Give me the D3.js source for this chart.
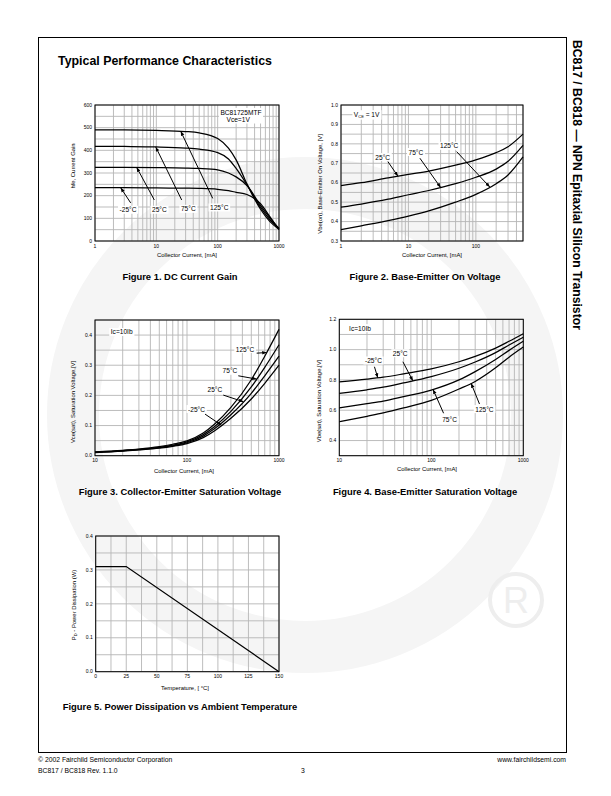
<!DOCTYPE html>
<html lang="en">
<head>
<meta charset="UTF-8">
<title>BC817 / BC818 Typical Performance Characteristics</title>
<style>
  body { margin: 0; background: #fff; }
  text { font-family: "Liberation Sans", Arial, sans-serif; fill: #000; }
</style>
</head>
<body>
<svg width="611" height="796"></svg>
<script src="https://cdn.jsdelivr.net/npm/d3@7"></script>
<script>
// ---- Figure 1: DC current gain vs collector current ----
var gainCurrent = [1, 3, 10, 30, 50, 100, 150, 200, 300, 500, 700, 1000];
var gainM25  = [235, 235, 234, 233, 232, 228, 222, 215, 205, 165, 110, 50];
var gain25   = [325, 325, 324, 322, 320, 314, 300, 283, 245, 157, 104, 54];
var gain75   = [418, 417, 415, 410, 405, 390, 362, 320, 248, 148, 96, 56];
var gain125  = [490, 490, 488, 483, 477, 452, 410, 358, 252, 140, 88, 52];
var gainTicksX = [1, 10, 100, 1000];
var gainTicksY = [0, 100, 200, 300, 400, 500, 600];

// ---- Figure 2: Vbe(on) vs collector current ----
var vbeOnCurrent = [1, 2, 5, 10, 20, 50, 100, 200, 300, 500];
var vbeOn25  = [0.585, 0.600, 0.625, 0.643, 0.660, 0.690, 0.718, 0.755, 0.785, 0.850];
var vbeOn75  = [0.474, 0.490, 0.515, 0.538, 0.560, 0.595, 0.628, 0.670, 0.710, 0.792];
var vbeOn125 = [0.358, 0.378, 0.405, 0.428, 0.455, 0.500, 0.540, 0.595, 0.640, 0.733];
var vbeOnTicksX = [1, 10, 100];
var vbeOnTicksY = [0.3, 0.4, 0.5, 0.6, 0.7, 0.8, 0.9, 1.0];

// ---- Figure 3: Vce(sat) vs collector current ----
var vceCurrent = [10, 20, 30, 50, 70, 100, 150, 200, 300, 500, 700, 1000];
var vceM25 = [0.010, 0.015, 0.019, 0.025, 0.031, 0.040, 0.060, 0.083, 0.124, 0.188, 0.240, 0.300];
var vce25  = [0.011, 0.016, 0.020, 0.027, 0.033, 0.043, 0.065, 0.090, 0.136, 0.207, 0.265, 0.330];
var vce75  = [0.012, 0.017, 0.021, 0.028, 0.035, 0.046, 0.070, 0.097, 0.147, 0.228, 0.293, 0.368];
var vce125 = [0.013, 0.018, 0.022, 0.030, 0.038, 0.049, 0.075, 0.105, 0.160, 0.252, 0.330, 0.419];
var vceTicksX = [10, 100, 1000];
var vceTicksY = [0.0, 0.1, 0.2, 0.3, 0.4];

// ---- Figure 4: Vbe(sat) vs collector current ----
var vbeSatCurrent = [10, 20, 30, 50, 100, 200, 300, 500, 700, 1000];
var vbeSatM25 = [0.787, 0.805, 0.818, 0.840, 0.873, 0.920, 0.955, 1.010, 1.055, 1.105];
var vbeSat25  = [0.711, 0.735, 0.752, 0.780, 0.822, 0.877, 0.918, 0.980, 1.030, 1.082];
var vbeSat75  = [0.615, 0.643, 0.660, 0.690, 0.733, 0.800, 0.855, 0.935, 0.995, 1.055];
var vbeSat125 = [0.524, 0.560, 0.582, 0.615, 0.665, 0.740, 0.790, 0.880, 0.950, 1.017];
var vbeSatTicksX = [10, 100, 1000];
var vbeSatTicksY = [0.4, 0.6, 0.8, 1.0, 1.2];

// ---- Figure 5: power dissipation vs temperature ----
var pdTemp = [0, 25, 150];
var pdWatts = [0.31, 0.31, 0.0];
var pdTicksX = [0, 25, 50, 75, 100, 125, 150];
var pdTicksY = [0.0, 0.1, 0.2, 0.3, 0.4];

var svg = d3.select("svg");

// faint logo watermark
svg.append("circle").attr("cx", 305).attr("cy", 415).attr("r", 232)
    .attr("fill", "none").attr("stroke", "#f5f5f5").attr("stroke-width", 52);
svg.append("circle").attr("cx", 516).attr("cy", 600).attr("r", 26)
    .attr("fill", "none").attr("stroke", "#eeeeee").attr("stroke-width", 4);
svg.append("text").attr("x", 516).attr("y", 613).attr("text-anchor", "middle")
    .attr("font-size", 36).style("fill", "#eeeeee").text("R");

// page frame
svg.append("rect").attr("x", 38.5).attr("y", 37.5).attr("width", 528).attr("height", 715)
    .attr("fill", "none").attr("stroke", "#000").attr("stroke-width", 1);

svg.append("text").attr("x", 58).attr("y", 64.5).attr("font-size", 12.4)
    .attr("font-weight", "bold").text("Typical Performance Characteristics");

svg.append("text").attr("transform", "translate(573,40) rotate(90)")
    .attr("font-size", 12.2).attr("font-weight", "bold")
    .text("BC817 / BC818 \u2014 NPN Epitaxial Silicon Transistor");

// arrow head
svg.append("defs").append("marker").attr("id", "arr")
    .attr("viewBox", "0 0 10 10").attr("refX", 10).attr("refY", 5)
    .attr("markerWidth", 4.5).attr("markerHeight", 4.5).attr("orient", "auto")
    .attr("markerUnits", "userSpaceOnUse")
    .append("path").attr("d", "M0,1 L10,5 L0,9 Z").attr("fill", "#000");

function stepRange(lo, hi, step) {
  var n = Math.round((hi - lo) / step);
  return d3.range(n + 1).map(function(i) { return lo + i * step; });
}

function labelBox(g, x, y, txt, size) {
  var t = g.append("text").attr("x", x).attr("y", y).attr("text-anchor", "middle")
      .attr("font-size", size);
  if (typeof txt === "function") txt(t); else t.text(txt);
  var b = t.node().getBBox();
  g.insert("rect", function() { return t.node(); })
      .attr("x", b.x - 1.5).attr("y", b.y - 0.5).attr("width", b.width + 3).attr("height", b.height + 1)
      .attr("fill", "#fff");
  return t;
}

function drawPanel(p) {
  var g = svg.append("g");
  var L = p.box[0], T = p.box[1], R = p.box[2], B = p.box[3];
  var x = (p.log ? d3.scaleLog() : d3.scaleLinear()).domain(p.xDomain).range([L, R]);
  var y = d3.scaleLinear().domain(p.yDomain).range([B, T]);

  var xg = p.log ? x.ticks() : stepRange(p.xDomain[0], p.xDomain[1], p.xStep);
  var yg = stepRange(p.yDomain[0], p.yDomain[1], p.yStep);

  g.selectAll(".vg").data(xg).enter().append("line")
      .attr("x1", function(d) { return x(d); }).attr("x2", function(d) { return x(d); })
      .attr("y1", T).attr("y2", B).attr("stroke", "#b5b5b5").attr("stroke-width", 0.9);
  g.selectAll(".hg").data(yg).enter().append("line")
      .attr("x1", L).attr("x2", R)
      .attr("y1", function(d) { return y(d); }).attr("y2", function(d) { return y(d); })
      .attr("stroke", "#b5b5b5").attr("stroke-width", 0.9);

  g.append("rect").attr("x", L).attr("y", T).attr("width", R - L).attr("height", B - T)
      .attr("fill", "none").attr("stroke", "#000").attr("stroke-width", 1);

  g.selectAll(".xt").data(p.xTicks).enter().append("text")
      .attr("x", function(d) { return x(d); }).attr("y", B + 6.5)
      .attr("text-anchor", "middle").attr("font-size", 5)
      .text(function(d) { return p.xFmt ? p.xFmt(d) : d; });
  g.selectAll(".yt").data(p.yTicks).enter().append("text")
      .attr("x", L - 3).attr("y", function(d) { return y(d) + 1.7; })
      .attr("text-anchor", "end").attr("font-size", 5)
      .text(function(d) { return p.yFmt ? p.yFmt(d) : d; });

  g.append("text").attr("x", p.xTitle[1]).attr("y", B + p.xTitle[2])
      .attr("text-anchor", "middle").attr("font-size", 5.9).text(p.xTitle[0]);
  var yt = g.append("text").attr("transform", "translate(" + (L + p.yTitle[1]) + "," + p.yTitle[2] + ") rotate(-90)")
      .attr("text-anchor", "middle").attr("font-size", 5.9);
  if (typeof p.yTitle[0] === "function") p.yTitle[0](yt); else yt.text(p.yTitle[0]);

  var line = d3.line().x(function(d) { return x(d[0]); }).y(function(d) { return y(d[1]); })
      .curve(p.log ? d3.curveMonotoneX : d3.curveLinear);
  p.series.forEach(function(s) {
    g.append("path").datum(d3.zip(p.xs, s)).attr("d", line)
        .attr("fill", "none").attr("stroke", "#000").attr("stroke-width", 1.25);
  });

  function onCurve(s, tx) {
    var xs = p.xs;
    for (var i = 0; i < xs.length - 1; i++) {
      if (tx >= xs[i] && tx <= xs[i + 1]) {
        var t = p.log ? Math.log(tx / xs[i]) / Math.log(xs[i + 1] / xs[i]) : (tx - xs[i]) / (xs[i + 1] - xs[i]);
        return s[i] + t * (s[i + 1] - s[i]);
      }
    }
    return s[s.length - 1];
  }

  (p.notes || []).forEach(function(n) {
    var s = p.series[n.s];
    g.append("line").attr("x1", x(n.ax)).attr("y1", y(n.ay))
        .attr("x2", x(n.tx)).attr("y2", y(onCurve(s, n.tx)))
        .attr("stroke", "#000").attr("stroke-width", 1).attr("marker-end", "url(#arr)");
    labelBox(g, x(n.lx), y(n.ly) + 2.3, n.text, 6.6);
  });

  (p.boxes || []).forEach(function(b) {
    labelBox(g, x(b.x), y(b.y), b.text, 6.6);
  });

  g.append("text").attr("x", p.caption[1]).attr("y", p.caption[2])
      .attr("text-anchor", "middle").attr("font-size", 9.4).attr("font-weight", "bold")
      .text(p.caption[0]);
}

var fmt1 = d3.format(".1f");

drawPanel({
  box: [95, 105, 279, 241], log: true, xDomain: [1, 1000], yDomain: [0, 600], yStep: 50,
  xTicks: gainTicksX, yTicks: gainTicksY,
  xs: gainCurrent, series: [gainM25, gain25, gain75, gain125],
  xTitle: ["Collector Current, [mA]", 187, 16], yTitle: ["hfe, Current Gain", -20, 166],
  notes: [
    {text: "-25\u00B0C", lx: 3.45, ly: 137, ax: 3.82, ay: 168, tx: 2.62, s: 0},
    {text: "25\u00B0C", lx: 11.2, ly: 137, ax: 9.27, ay: 181, tx: 4.78, s: 1},
    {text: "75\u00B0C", lx: 33.2, ly: 141, ax: 25.9, ay: 181, tx: 9.77, s: 2},
    {text: "125\u00B0C", lx: 106, ly: 147, ax: 83, ay: 188, tx: 25, s: 3}
  ],
  boxes: [
    {x: 240, y: 558, text: function(t) {
      t.append("tspan").text("BC81725MTF");
      t.append("tspan").attr("dx", -35).attr("dy", 7.5).text("Vce=1V");
    }}
  ],
  caption: ["Figure 1. DC Current Gain", 180, 279.5]
});

drawPanel({
  box: [341, 105, 523, 241], log: true, xDomain: [1, 500], yDomain: [0.3, 1.0], yStep: 0.05,
  xTicks: vbeOnTicksX, yTicks: vbeOnTicksY, yFmt: fmt1,
  xs: vbeOnCurrent, series: [vbeOn25, vbeOn75, vbeOn125],
  xTitle: ["Collector Current, [mA]", 432, 16], yTitle: ["Vbe(on), Base-Emitter On Voltage, [V]", -19, 184],
  notes: [
    {text: "25\u00B0C", lx: 4.15, ly: 0.731, ax: 4.97, ay: 0.708, tx: 6.99, s: 0},
    {text: "75\u00B0C", lx: 12.9, ly: 0.757, ax: 14.8, ay: 0.726, tx: 30, s: 1},
    {text: "125\u00B0C", lx: 40.2, ly: 0.789, ax: 51.8, ay: 0.76, tx: 161, s: 2}
  ],
  boxes: [
    {x: 2.4, y: 0.94, text: function(t) {
      t.append("tspan").text("V");
      t.append("tspan").attr("font-size", 4).attr("dy", 1.5).text("CE");
      t.append("tspan").attr("dy", -1.5).text(" = 1V");
    }}
  ],
  caption: ["Figure 2. Base-Emitter On Voltage", 425, 279.5]
});

drawPanel({
  box: [95, 320, 279, 455.7], log: true, xDomain: [10, 1000], yDomain: [0, 0.45], yStep: 0.05,
  xTicks: vceTicksX, yTicks: vceTicksY, yFmt: fmt1,
  xs: vceCurrent, series: [vceM25, vce25, vce75, vce125],
  xTitle: ["Collector Current, [mA]", 184, 17], yTitle: ["Vce(sat), Saturation Voltage,[V]", -20, 402],
  notes: [
    {text: "-25\u00B0C", lx: 127, ly: 0.154, ax: 157, ay: 0.138, tx: 238, s: 0},
    {text: "25\u00B0C", lx: 201, ly: 0.218, ax: 248, ay: 0.201, tx: 409, s: 1},
    {text: "75\u00B0C", lx: 293, ly: 0.281, ax: 361, ay: 0.265, tx: 572, s: 2},
    {text: "125\u00B0C", lx: 427, ly: 0.353, ax: 572, ay: 0.34, tx: 735, s: 3}
  ],
  boxes: [{x: 19.5, y: 0.402, text: "Ic=10Ib"}],
  caption: ["Figure 3. Collector-Emitter Saturation Voltage", 180, 494.5]
});

drawPanel({
  box: [339.3, 319.3, 523.3, 455.7], log: true, xDomain: [10, 1000], yDomain: [0.3, 1.2], yStep: 0.1,
  xTicks: vbeSatTicksX, yTicks: vbeSatTicksY, yFmt: fmt1,
  xs: vbeSatCurrent, series: [vbeSatM25, vbeSat25, vbeSat75, vbeSat125],
  xTitle: ["Collector Current, [mA]", 427, 15], yTitle: ["Vbe(sat), Saturation Voltage,[V]", -18, 401],
  notes: [
    {text: "-25\u00B0C", lx: 23.5, ly: 0.927, ax: 24.1, ay: 0.887, tx: 26.2, s: 0},
    {text: "25\u00B0C", lx: 45.9, ly: 0.975, ax: 49.1, ay: 0.92, tx: 63, s: 1},
    {text: "75\u00B0C", lx: 158, ly: 0.535, ax: 136, ay: 0.58, tx: 104.5, s: 2},
    {text: "125\u00B0C", lx: 378, ly: 0.606, ax: 334, ay: 0.641, tx: 271, s: 3}
  ],
  boxes: [{x: 16.8, y: 1.125, text: "Ic=10Ib"}],
  caption: ["Figure 4. Base-Emitter Saturation Voltage", 425, 494.5]
});

drawPanel({
  box: [95.7, 536, 279, 671.7], log: false, xDomain: [0, 150], xStep: 12.5, yDomain: [0, 0.4], yStep: 0.05,
  xTicks: pdTicksX, yTicks: pdTicksY, yFmt: fmt1,
  xs: pdTemp, series: [pdWatts],
  xTitle: ["Temperature, [ \u00B0C]", 185, 18],
  yTitle: [function(t) {
    t.append("tspan").text("P");
    t.append("tspan").attr("font-size", 4).attr("dy", 1.5).text("D");
    t.append("tspan").attr("dy", -1.5).text(" - Power Dissipation (W)");
  }, -20, 605],
  caption: ["Figure 5. Power Dissipation vs Ambient Temperature", 180, 710]
});

// footer
svg.append("text").attr("x", 38).attr("y", 762).attr("font-size", 6.8).text("\u00A9 2002 Fairchild Semiconductor Corporation");
svg.append("text").attr("x", 38).attr("y", 773).attr("font-size", 6.8).text("BC817 / BC818 Rev. 1.1.0");
svg.append("text").attr("x", 301).attr("y", 773).attr("font-size", 6.8).text("3");
svg.append("text").attr("x", 566).attr("y", 762).attr("text-anchor", "end").attr("font-size", 6.8).text("www.fairchildsemi.com");
</script>
</body>
</html>
